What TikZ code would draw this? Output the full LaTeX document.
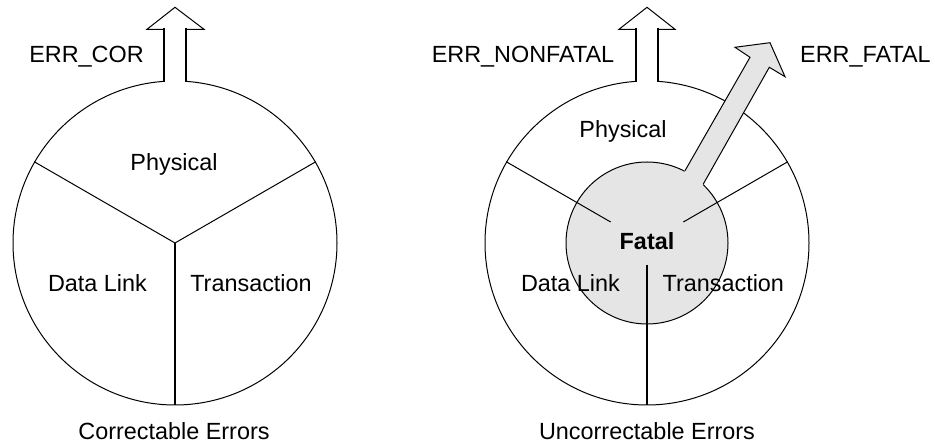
\documentclass[tikz,border=0pt]{standalone}
\usepackage{fontspec}
\setmainfont{Liberation Sans}
\usepackage{tikz}

\begin{document}
\begin{tikzpicture}[x=1pt, y=1pt,
    every node/.style={inner sep=0pt, font=\fontsize{23.4}{28}\selectfont},
    ring/.style={circle, draw, line width=1pt, minimum size=324pt},
    spoke/.style={line width=1pt},
    stem/.style={line width=1.8pt},
    lbl/.style={anchor=base}
]
\useasboundingbox (0,0) rectangle (935,444);

\node[ring] (corr) at (175,201) {};
\node[ring] (uncorr) at (647,201) {};
\node[circle, draw, fill=black!10, line width=1pt, minimum size=162pt] (core) at (647,201) {};

\coordinate (hubDL) at ([shift={(150:42)}]uncorr.center);
\coordinate (hubTR) at ([shift={(30:42)}]uncorr.center);
\coordinate (hubDN) at ([yshift=-22pt]uncorr.center);

\draw[spoke] (corr.center) -- (corr.150);
\draw[spoke] (corr.center) -- (corr.30);
\draw[stem] (corr.center) -- (corr.south);
\draw[spoke] (hubDL) -- (uncorr.150);
\draw[spoke] (hubTR) -- (uncorr.30);
\draw[stem] (hubDN) -- (uncorr.south);

% hollow arrows
\fill[white] (165,361) rectangle (185,366);
\draw[spoke, line join=miter] (164,414.7) -- (147,414.7) -- (175,436.7) -- (204,414.7) -- (186,414.7);
\draw[stem] (164,362.5) -- (164,415.5);
\draw[stem] (186,362.5) -- (186,415.5);

\fill[white] (637,361) rectangle (657,366);
\draw[spoke, line join=miter] (636,414.7) -- (619,414.7) -- (647,436.7) -- (675,414.7) -- (658,414.7);
\draw[stem] (636,362.5) -- (636,415.5);
\draw[stem] (658,362.5) -- (658,415.5);

% fatal arrow
\fill[black!10] (681,266.4) -- (750,386.7) -- (735,396.7) -- (770,401.3) -- (785,367.3) -- (769.3,376.7) -- (699.3,253.1) -- cycle;
\draw[spoke, line join=miter] (685,273.3) -- (750,386.7) -- (735,396.7) -- (770,401.3) -- (785,367.3) -- (769.3,376.7) -- (703.3,260);

\node[lbl] (errcor) at (86.5,381) {ERR\_COR};
\node[lbl] (physL) at (174,273) {Physical};
\node[lbl] (dlL) at (97.5,152) {Data Link};
\node[lbl] (trL) at (251,152) {Transaction};
\node[lbl] (corrlbl) at (174,4.7) {Correctable Errors};

\node[lbl] (errnf) at (523,381) {ERR\_NONFATAL};
\node[anchor=base west] (errf) at (800,381) {ERR\_FATAL};
\node[lbl] (physR) at (623,306) {Physical};
\node[lbl, font=\fontsize{23.4}{28}\selectfont\bfseries] (fatallbl) at (647,194) {Fatal};
\node[lbl] (dlR) at (570.5,152) {Data Link};
\node[lbl] (trR) at (723.3,152) {Transaction};
\node[lbl] (unclbl) at (647,4.7) {Uncorrectable Errors};
\end{tikzpicture}
\end{document}
